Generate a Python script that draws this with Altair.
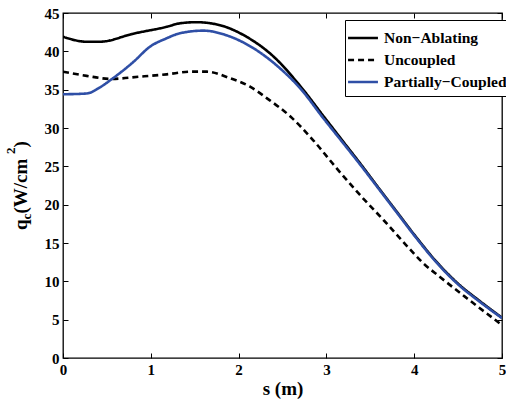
import altair as alt
import pandas as pd

# ---- data ----
s_na = [0.0, 0.27, 0.42, 0.80, 1.18, 1.33, 1.52, 1.79, 2.09, 2.40, 2.70, 2.97,
        3.2, 3.4, 3.6, 3.8, 4.0, 4.25, 4.5, 4.75, 5.0]
q_na = [41.9, 41.25, 41.25, 42.3, 43.2, 43.65, 43.8, 43.4, 41.9, 39.3, 35.5, 31.5,
        28.1, 25.15, 22.1, 19.1, 16.1, 12.6, 9.7, 7.4, 5.25]

s_un = [0.0, 0.27, 0.54, 0.88, 1.18, 1.45, 1.64, 1.90, 2.13, 2.32, 2.59, 2.85, 3.12,
        3.38, 3.65, 3.91, 4.10, 4.29, 4.6, 5.0]
q_un = [37.35, 36.8, 36.4, 36.7, 37.0, 37.35, 37.35, 36.5, 35.4, 33.9, 31.5, 28.4, 24.7,
        21.3, 18.0, 14.7, 12.4, 10.6, 7.8, 4.3]

s_pc = [0.0, 0.27, 0.42, 0.57, 0.80, 0.99, 1.18, 1.33, 1.60, 1.86, 2.17, 2.47, 2.70,
        2.97, 3.2, 3.4, 3.6, 3.8, 4.0, 4.25, 4.5, 4.75, 5.0]
q_pc = [34.4, 34.5, 35.3, 36.5, 38.6, 40.6, 41.7, 42.35, 42.7, 42.1, 40.4, 37.8, 35.2,
        31.2, 27.9, 25.0, 22.0, 19.0, 16.0, 12.5, 9.6, 7.3, 5.2]

series_names = ["Non\u2212Ablating", "Uncoupled", "Partially\u2212Coupled"]
series_colors = ["#000000", "#000000", "#2f4fa6"]
series_dash = [[1, 0], [6, 4], [1, 0]]

x_ticks = [0, 1, 2, 3, 4, 5]
y_ticks = [0, 5, 10, 15, 20, 25, 30, 35, 40, 45]

rows = []
for name, ss, qq in zip(series_names, [s_na, s_un, s_pc], [q_na, q_un, q_pc]):
    for a, b in zip(ss, qq):
        rows.append({"s": a, "q": b, "series": name})
df = pd.DataFrame(rows)

FONT = "Liberation Serif"
xscale = alt.Scale(domain=[0, 5], nice=False, zero=False)
yscale = alt.Scale(domain=[0, 45], nice=False, zero=False)

lines = alt.Chart(df).mark_line(strokeWidth=2.6, clip=True, interpolate="monotone").encode(
    x=alt.X("s:Q", scale=xscale, axis=alt.Axis(
        orient="bottom", values=x_ticks, ticks=False, domain=False, grid=False,
        labelFont=FONT, labelFontWeight="bold", labelFontSize=15, labelColor="#000",
        labelPadding=4, labelFlush=False,
        title="s (m)", titleFont=FONT, titleFontWeight="bold", titleFontSize=19,
        titleColor="#000", titlePadding=2)),
    y=alt.Y("q:Q", scale=yscale, axis=alt.Axis(
        orient="left", values=y_ticks, ticks=False, domain=False, grid=False,
        labelFont=FONT, labelFontWeight="bold", labelFontSize=15, labelColor="#000",
        labelPadding=4, labelFlush=False, title=None)),
    color=alt.Color("series:N", scale=alt.Scale(domain=series_names, range=series_colors),
                    legend=alt.Legend(title=None)),
    strokeDash=alt.StrokeDash("series:N", scale=alt.Scale(domain=series_names, range=series_dash),
                              legend=alt.Legend(title=None)),
    detail="series:N",
)

tick_style = dict(ticks=True, tickSize=5, tickColor="#000", tickWidth=1,
                  labels=False, domain=False, grid=False, title=None)

ticks_a = alt.Chart(df).mark_point(opacity=0).encode(
    x=alt.X("s:Q", scale=xscale, axis=alt.Axis(orient="bottom", offset=-5, values=x_ticks, **tick_style)),
    y=alt.Y("q:Q", scale=yscale, axis=alt.Axis(orient="left", offset=-5, values=y_ticks, **tick_style)),
)
ticks_b = alt.Chart(df).mark_point(opacity=0).encode(
    x=alt.X("s:Q", scale=xscale, axis=alt.Axis(orient="top", offset=-5, values=x_ticks, **tick_style)),
    y=alt.Y("q:Q", scale=yscale, axis=alt.Axis(orient="right", offset=-5, values=y_ticks, **tick_style)),
)

# y-axis title pieces: q_c (W/cm^2)
def piece(text, x, y, size):
    return alt.Chart(pd.DataFrame({"t": [text]})).mark_text(
        angle=270, align="left", baseline="alphabetic", font=FONT, fontWeight="bold",
        fontSize=size, color="#000").encode(
        text="t:N", x=alt.value(x), y=alt.value(y))

title_parts = [
    piece("q", -36, 217, 19),
    piece("c", -32, 206.4, 13),
    piece(" (W/cm", -36, 200.6, 19),
    piece("2", -48, 141, 13),
    piece(")", -36, 134.5, 19),
]

chart = alt.layer(lines, ticks_a, ticks_b, *title_parts).resolve_axis(
    x="independent", y="independent"
).properties(
    width=439, height=345,
    autosize=alt.AutoSizeParams(type="none"),
    padding={"left": 63, "top": 13, "right": 4, "bottom": 42},
    background="white",
).configure_view(
    stroke="#000", strokeWidth=1.3
).configure_legend(
    orient="none", legendX=282, legendY=7,
    strokeColor="#000", fillColor="white", padding=5, cornerRadius=0,
    labelFont=FONT, labelFontWeight="bold", labelFontSize=15.5, labelColor="#000",
    symbolType="M-1.3,0H1.3", symbolSize=529, symbolStrokeWidth=2.6,
    rowPadding=0, labelOffset=8, labelLimit=300,
)

chart.save("out.html", embed_options={"renderer": "svg", "actions": False})
